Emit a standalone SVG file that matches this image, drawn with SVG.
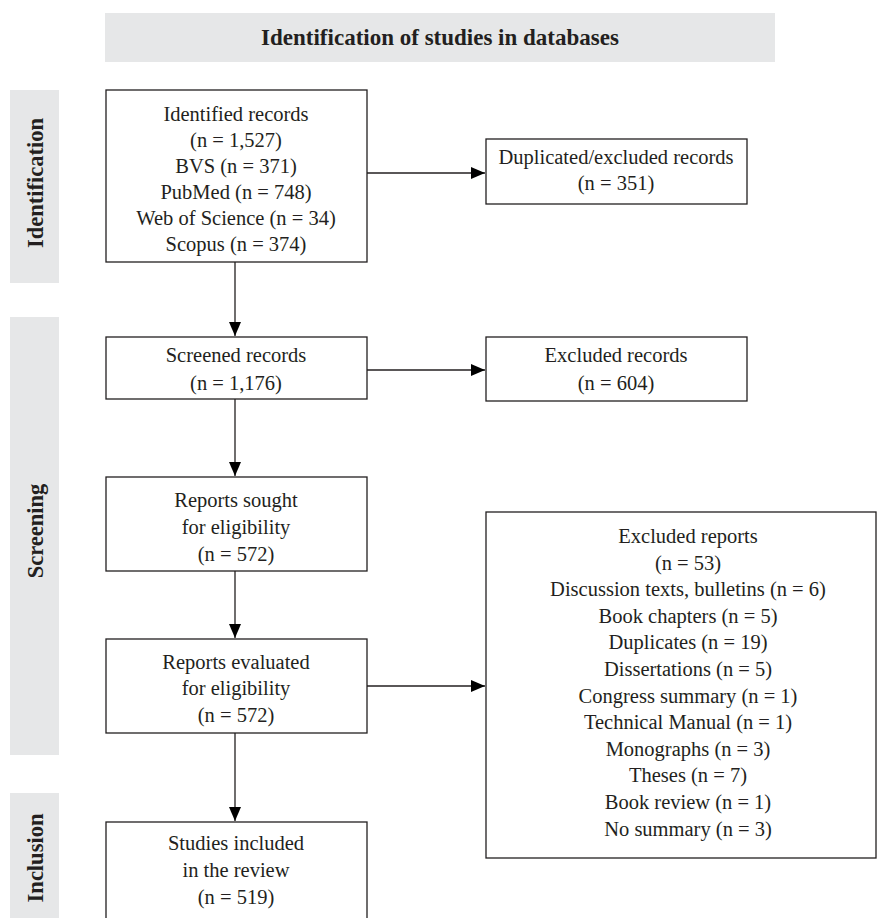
<svg xmlns="http://www.w3.org/2000/svg" width="879" height="918" viewBox="0 0 879 918">
<style>
.band{fill:#e6e7e8;}
.box{fill:#fff;stroke:#231f20;stroke-width:1.3;}
.t{font-family:"Liberation Serif","Times New Roman",serif;font-size:20.5px;fill:#231f20;text-anchor:middle;}
.h{font-family:"Liberation Serif","Times New Roman",serif;font-size:22.5px;font-weight:bold;fill:#231f20;text-anchor:middle;}
.ttl{font-family:"Liberation Serif","Times New Roman",serif;font-size:23px;font-weight:bold;fill:#231f20;text-anchor:middle;}
.ln{stroke:#231f20;stroke-width:1.3;fill:none;marker-end:url(#ah);}
</style>
<defs>
<marker id="ah" viewBox="0 0 14 12" refX="14" refY="6" markerWidth="14" markerHeight="12" markerUnits="userSpaceOnUse" orient="auto">
<path d="M0,0 L14,6 L0,12 Z" fill="#000"/>
</marker>
</defs>
<g id="header">
<rect class="band" x="105" y="13" width="670" height="49"/>
<text class="ttl" x="440" y="45">Identification of studies in databases</text>
</g>
<g id="phase-identification">
<rect class="band" x="10" y="90" width="49" height="193"/>
<text class="h" transform="translate(43,183) rotate(-90)">Identification</text>
</g>
<g id="phase-screening">
<rect class="band" x="10" y="317" width="49" height="438"/>
<text class="h" transform="translate(43,531) rotate(-90)">Screening</text>
</g>
<g id="phase-inclusion">
<rect class="band" x="10" y="793" width="49" height="125"/>
<text class="h" transform="translate(43,858) rotate(-90)">Inclusion</text>
</g>
<g id="identified">
<rect class="box" x="106" y="90" width="261" height="172"/>
<text class="t" x="236" y="121">Identified records</text>
<text class="t" x="236" y="147">(n = 1,527)</text>
<text class="t" x="236" y="173">BVS (n = 371)</text>
<text class="t" x="236" y="199">PubMed (n = 748)</text>
<text class="t" x="236" y="225">Web of Science (n = 34)</text>
<text class="t" x="236" y="251">Scopus (n = 374)</text>
</g>
<g id="duplicated">
<rect class="box" x="486" y="139" width="261" height="65"/>
<text class="t" x="616" y="164">Duplicated/excluded records</text>
<text class="t" x="616" y="190">(n = 351)</text>
</g>
<g id="screened">
<rect class="box" x="106" y="337" width="261" height="62"/>
<text class="t" x="236" y="362">Screened records</text>
<text class="t" x="236" y="390">(n = 1,176)</text>
</g>
<g id="excluded-records">
<rect class="box" x="486" y="337" width="261" height="64"/>
<text class="t" x="616" y="362">Excluded records</text>
<text class="t" x="616" y="390">(n = 604)</text>
</g>
<g id="sought">
<rect class="box" x="106" y="477" width="261" height="94"/>
<text class="t" x="236" y="507">Reports sought</text>
<text class="t" x="236" y="534">for eligibility</text>
<text class="t" x="236" y="561">(n = 572)</text>
</g>
<g id="evaluated">
<rect class="box" x="106" y="639" width="261" height="94"/>
<text class="t" x="236" y="669">Reports evaluated</text>
<text class="t" x="236" y="695">for eligibility</text>
<text class="t" x="236" y="722">(n = 572)</text>
</g>
<g id="excluded-reports">
<rect class="box" x="486" y="512" width="390" height="346"/>
<text class="t" x="688" y="543">Excluded reports</text>
<text class="t" x="688" y="569.6">(n = 53)</text>
<text class="t" x="688" y="596.2">Discussion texts, bulletins (n = 6)</text>
<text class="t" x="688" y="622.8">Book chapters (n = 5)</text>
<text class="t" x="688" y="649.4">Duplicates (n = 19)</text>
<text class="t" x="688" y="676">Dissertations (n = 5)</text>
<text class="t" x="688" y="702.6">Congress summary (n = 1)</text>
<text class="t" x="688" y="729.2">Technical Manual (n = 1)</text>
<text class="t" x="688" y="755.8">Monographs (n = 3)</text>
<text class="t" x="688" y="782.4">Theses (n = 7)</text>
<text class="t" x="688" y="809">Book review (n = 1)</text>
<text class="t" x="688" y="835.6">No summary (n = 3)</text>
</g>
<g id="included">
<rect class="box" x="106" y="822" width="261" height="110"/>
<text class="t" x="236" y="850">Studies included</text>
<text class="t" x="236" y="877">in the review</text>
<text class="t" x="236" y="904">(n = 519)</text>
</g>
<g id="connectors">
<line class="ln" x1="367" y1="173" x2="485" y2="173"/>
<line class="ln" x1="235" y1="262" x2="235" y2="336"/>
<line class="ln" x1="367" y1="370" x2="485" y2="370"/>
<line class="ln" x1="235" y1="399" x2="235" y2="476"/>
<line class="ln" x1="235" y1="571" x2="235" y2="638"/>
<line class="ln" x1="367" y1="686" x2="485" y2="686"/>
<line class="ln" x1="235" y1="733" x2="235" y2="821"/>
</g>
</svg>
